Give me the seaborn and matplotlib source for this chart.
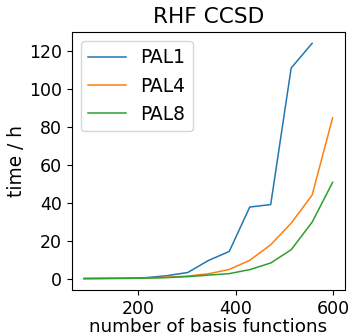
import pandas as pd
import matplotlib
matplotlib.use('Agg')
import matplotlib.pyplot as plt
import seaborn as sns

# number of basis functions
n_basis = [89, 132, 174, 217, 259, 302, 344, 387, 429, 472, 514, 557, 599]

# wall time in hours
pal1 = [0.0, 0.1, 0.2, 0.5, 1.5, 3.2, 9.5, 14.3, 37.7, 39.0, 111.0, 124.0]
pal4 = [0.0, 0.05, 0.1, 0.3, 0.7, 1.3, 2.5, 4.8, 9.6, 17.8, 29.2, 44.0, 84.7]
pal8 = [0.0, 0.05, 0.1, 0.2, 0.5, 1.0, 1.8, 2.6, 4.7, 8.2, 15.2, 29.7, 50.7]

series = {'PAL1': pal1, 'PAL4': pal4, 'PAL8': pal8}
rows = []
for name, vals in series.items():
    for x, y in zip(n_basis, vals):
        rows.append({'n': x, 'time': y, 'run': name})
df = pd.DataFrame(rows)

plt.rcParams['font.size'] = 13.5

fig = plt.figure(figsize=(3.51, 3.36), dpi=100)
ax = fig.add_axes([0.204, 0.136, 0.779, 0.770])
sns.lineplot(data=df, x='n', y='time', hue='run', palette='tab10', linewidth=1.1, ax=ax)
ax.set_title('RHF CCSD', fontsize=15.6)
ax.set_xlabel('number of basis functions', fontsize=13.2, labelpad=-0.3)
ax.set_ylabel('time / h', fontsize=13.4, labelpad=2)
ax.set_xticks([200, 400, 600])
ax.set_yticks(range(0, 121, 20))
ax.tick_params(labelsize=12.5)
ax.legend(loc='upper left', fontsize=13.4, title=None)
fig.savefig('out.png', dpi=100)
